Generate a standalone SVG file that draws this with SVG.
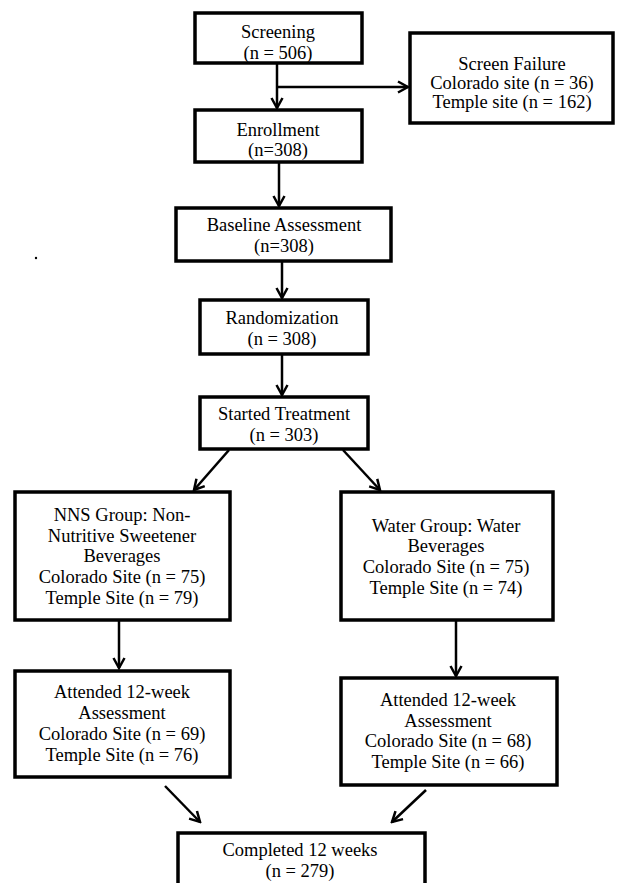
<svg xmlns="http://www.w3.org/2000/svg" width="618" height="883" viewBox="0 0 618 883">
<style>
.box{fill:#fff;stroke:#000;stroke-width:3.5}
.t{font-family:'Liberation Serif',Tinos,'Times New Roman',Times,'DejaVu Serif','Noto Serif',serif;font-size:18.5px;fill:#000;text-anchor:middle}
.c{stroke:#000;stroke-width:2.5;fill:none}
</style>
<defs>
<marker id="ah" markerUnits="userSpaceOnUse" markerWidth="14" markerHeight="14" refX="12" refY="7" orient="auto">
<path d="M2,1.5 L12,7 L2,12.5" fill="none" stroke="#000" stroke-width="2.5"/>
</marker>
</defs>
<rect width="618" height="883" fill="#fff"/>
<circle cx="36" cy="258" r="1.2" fill="#000"/>
<g id="connectors">
<line class="c" x1="277" y1="63" x2="277" y2="108" marker-end="url(#ah)"/>
<line class="c" x1="277" y1="87" x2="408" y2="87" marker-end="url(#ah)"/>
<line class="c" x1="279" y1="162" x2="279" y2="206" marker-end="url(#ah)"/>
<line class="c" x1="282" y1="261" x2="282" y2="298" marker-end="url(#ah)"/>
<line class="c" x1="282" y1="354" x2="282" y2="395" marker-end="url(#ah)"/>
<line class="c" x1="229" y1="450" x2="194" y2="490" marker-end="url(#ah)"/>
<line class="c" x1="343" y1="450" x2="380" y2="490" marker-end="url(#ah)"/>
<line class="c" x1="119" y1="620" x2="119" y2="668" marker-end="url(#ah)"/>
<line class="c" x1="456" y1="620" x2="456" y2="676" marker-end="url(#ah)"/>
<line class="c" x1="165" y1="786" x2="200" y2="822" marker-end="url(#ah)"/>
<line class="c" x1="426" y1="790" x2="392" y2="822" marker-end="url(#ah)"/>
</g>
<g id="screening">
<rect class="box" x="195" y="13" width="167" height="50"/>
<text class="t" x="278" y="38">Screening</text>
<text class="t" x="278" y="59">(n = 506)</text>
</g>
<g id="screen-failure">
<rect class="box" x="410" y="33" width="203" height="90"/>
<text class="t" x="512" y="70">Screen Failure</text>
<text class="t" x="512" y="89">Colorado site (n = 36)</text>
<text class="t" x="512" y="108">Temple site (n = 162)</text>
</g>
<g id="enrollment">
<rect class="box" x="195" y="110" width="167" height="52"/>
<text class="t" x="278" y="136">Enrollment</text>
<text class="t" x="278" y="156">(n=308)</text>
</g>
<g id="baseline">
<rect class="box" x="176" y="208" width="215" height="53"/>
<text class="t" x="284" y="231">Baseline Assessment</text>
<text class="t" x="284" y="252">(n=308)</text>
</g>
<g id="randomization">
<rect class="box" x="200" y="300" width="168" height="54"/>
<text class="t" x="282" y="324">Randomization</text>
<text class="t" x="282" y="345">(n = 308)</text>
</g>
<g id="started">
<rect class="box" x="200" y="397" width="168" height="52"/>
<text class="t" x="284" y="420">Started Treatment</text>
<text class="t" x="284" y="441">(n = 303)</text>
</g>
<g id="nns">
<rect class="box" x="15" y="492" width="215" height="128"/>
<text class="t" x="122" y="521">NNS Group: Non-</text>
<text class="t" x="122" y="541.5">Nutritive Sweetener</text>
<text class="t" x="122" y="562">Beverages</text>
<text class="t" x="122" y="583">Colorado Site (n = 75)</text>
<text class="t" x="122" y="603.5">Temple Site (n = 79)</text>
</g>
<g id="water">
<rect class="box" x="341" y="492" width="212" height="128"/>
<text class="t" x="446" y="532">Water Group: Water</text>
<text class="t" x="446" y="552">Beverages</text>
<text class="t" x="446" y="573">Colorado Site (n = 75)</text>
<text class="t" x="446" y="594">Temple Site (n = 74)</text>
</g>
<g id="attended-nns">
<rect class="box" x="15" y="671" width="215" height="106"/>
<text class="t" x="122" y="698">Attended 12-week</text>
<text class="t" x="122" y="719">Assessment</text>
<text class="t" x="122" y="740">Colorado Site (n = 69)</text>
<text class="t" x="122" y="761">Temple Site (n = 76)</text>
</g>
<g id="attended-water">
<rect class="box" x="341" y="678" width="216" height="107"/>
<text class="t" x="448" y="706">Attended 12-week</text>
<text class="t" x="448" y="727">Assessment</text>
<text class="t" x="448" y="747">Colorado Site (n = 68)</text>
<text class="t" x="448" y="768">Temple Site (n = 66)</text>
</g>
<g id="completed">
<rect class="box" x="178" y="833" width="247" height="60"/>
<text class="t" x="300" y="856">Completed 12 weeks</text>
<text class="t" x="300" y="877">(n = 279)</text>
</g>
</svg>
